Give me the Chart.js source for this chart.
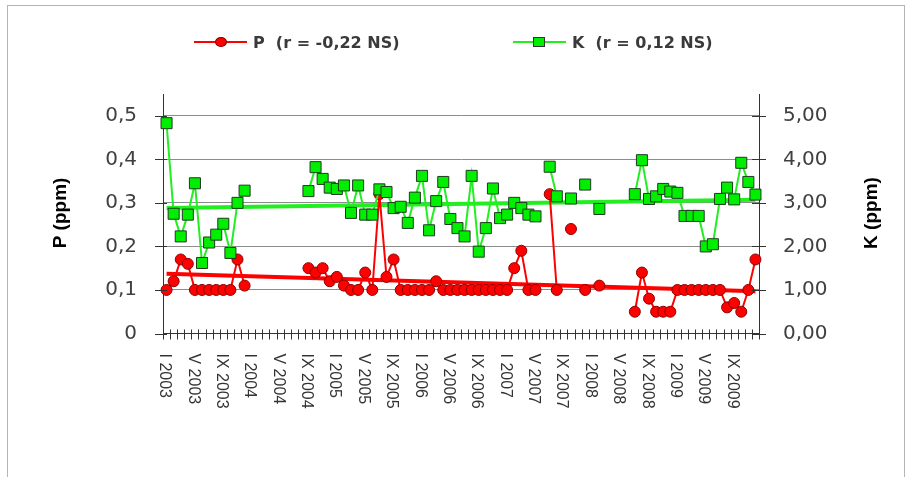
<!DOCTYPE html>
<html>
<head>
<meta charset="utf-8">
<script src="https://cdn.jsdelivr.net/npm/chart.js@4.4.1/dist/chart.umd.min.js"></script>
<style>
  html, body { margin: 0; padding: 0; background: #fff; }
  #wrap { position: relative; width: 909px; height: 477px; overflow: hidden; }
  #frame { position: absolute; left: 7px; top: 5px; width: 896px; height: 480px; border: 1px solid #b4b4b4; }
  #chart { position: absolute; left: 0; top: 0; }
  .lg { position: absolute; top: 32px; height: 21px; display: flex; align-items: center;
        font: bold 16px "DejaVu Sans", sans-serif; color: #3a3a3a; white-space: pre; }
  .sym { position: relative; width: 53px; height: 21px; margin-right: 6px; }
  .sym .ln { position: absolute; left: 0; right: 0; top: 9px; height: 2px; }
  .sym .mk { position: absolute; left: 22px; top: 5px; width: 10px; height: 10px; box-sizing: border-box; border: 1px solid #333; }
</style>
</head>
<body>
<div id="wrap">
  <div id="frame"></div>
  <canvas id="chart" width="909" height="477"></canvas>
  <div class="lg" style="left:194px">
    <span class="sym"><i class="ln" style="background:#ff0000"></i><i class="mk" style="background:#ff0000;border-color:#800000;border-radius:50%;width:12px;left:21px"></i></span><span>P  (r = -0,22 NS)</span>
  </div>
  <div class="lg" style="left:513px">
    <span class="sym"><i class="ln" style="background:#22ee22"></i><i class="mk" style="background:#00ee00;width:12px;left:20px"></i></span><span>K  (r = 0,12 NS)</span>
  </div>
</div>
<script>
// months I..XII for 2003..2009
const MONTHS = ["I", "II", "III", "IV", "V", "VI", "VII", "VIII", "IX", "X", "XI", "XII"];
const YEARS = [2003, 2004, 2005, 2006, 2007, 2008, 2009];
const categories = [];
YEARS.forEach(y => MONTHS.forEach(m => categories.push(m + " " + y)));

// P (ppm), one value per month, null = no sample
const pValues = [
  0.10, 0.12, 0.17, 0.16, 0.10, 0.10, 0.10, 0.10, 0.10, 0.10, 0.17, 0.11,
  null, null, null, null, null, null, null, null, 0.15, 0.14, 0.15, 0.12,
  0.13, 0.11, 0.10, 0.10, 0.14, 0.10, 0.32, 0.13, 0.17, 0.10, 0.10, 0.10,
  0.10, 0.10, 0.12, 0.10, 0.10, 0.10, 0.10, 0.10, 0.10, 0.10, 0.10, 0.10,
  0.10, 0.15, 0.19, 0.10, 0.10, null, 0.32, 0.10, null, 0.24, null, 0.10,
  null, 0.11, null, null, null, null, 0.05, 0.14, 0.08, 0.05, 0.05, 0.05,
  0.10, 0.10, 0.10, 0.10, 0.10, 0.10, 0.10, 0.06, 0.07, 0.05, 0.10, 0.17
];

// K (ppm)
const kValues = [
  4.83, 2.75, 2.23, 2.73, 3.45, 1.62, 2.09, 2.27, 2.52, 1.85, 3.00, 3.28,
  null, null, null, null, null, null, null, null, 3.27, 3.82, 3.55, 3.35,
  3.32, 3.40, 2.77, 3.40, 2.73, 2.73, 3.31, 3.25, 2.88, 2.91, 2.54, 3.12,
  3.62, 2.37, 3.04, 3.48, 2.63, 2.42, 2.23, 3.62, 1.88, 2.42, 3.33, 2.65,
  2.73, 3.00, 2.88, 2.73, 2.69, null, 3.83, 3.15, null, 3.10, null, 3.42,
  null, 2.86, null, null, null, null, 3.20, 3.98, 3.09, 3.15, 3.32, 3.26,
  3.23, 2.70, 2.70, 2.70, 2.00, 2.05, 3.09, 3.35, 3.08, 3.92, 3.48, 3.19
];

// linear trend end points (first and last month)
const pTrend = [0.137, 0.097];
const kTrend = [2.88, 3.07];

const yTickValues = [0, 0.1, 0.2, 0.3, 0.4, 0.5];
const y2TickValues = [0, 1, 2, 3, 4, 5];

function trendSeries(ends) {
  return categories.map((c, i) => i === 0 ? ends[0] : (i === categories.length - 1 ? ends[1] : null));
}

// tick marks crossing the axes, rotated month labels, axis titles
const axisDecor = {
  id: "axisDecor",
  afterDraw(chart) {
    const { ctx, chartArea: a, scales } = chart;
    const xs = scales.x, yl = scales.y, yr = scales.y2;
    const step = xs.getPixelForValue(1) - xs.getPixelForValue(0);
    const x0 = xs.getPixelForValue(0) - step / 2;

    ctx.save();
    ctx.strokeStyle = "#333";
    ctx.lineWidth = 1;
    ctx.beginPath();
    for (let k = 0; k <= categories.length; k++) {
      const x = Math.round(x0 + step * k) + 0.5;
      ctx.moveTo(x, a.bottom - 4);
      ctx.lineTo(x, a.bottom + 6);
    }
    yTickValues.forEach(v => {
      const y = Math.round(yl.getPixelForValue(v)) + 0.5;
      ctx.moveTo(a.left - 8, y);
      ctx.lineTo(a.left + 4, y);
    });
    y2TickValues.forEach(v => {
      const y = Math.round(yr.getPixelForValue(v)) + 0.5;
      ctx.moveTo(a.right - 7, y);
      ctx.lineTo(a.right + 7, y);
    });
    ctx.stroke();

    ctx.fillStyle = "#333";
    ctx.font = "16px 'Liberation Sans'";
    ctx.textAlign = "left";
    ctx.textBaseline = "middle";
    categories.forEach((c, i) => {
      if (i % 4) return;
      ctx.save();
      ctx.translate(xs.getPixelForValue(i) - 2, a.bottom + 20);
      ctx.rotate(Math.PI / 2);
      ctx.fillText(c, 0, 0);
      ctx.restore();
    });

    ctx.fillStyle = "#000";
    ctx.font = "bold 19px 'Liberation Sans'";
    ctx.textAlign = "center";
    [["P (ppm)", 61], ["K (ppm)", 872]].forEach(([t, x]) => {
      ctx.save();
      ctx.translate(x, 213);
      ctx.rotate(-Math.PI / 2);
      ctx.fillText(t, 0, 0);
      ctx.restore();
    });
    ctx.restore();
  }
};

new Chart(document.getElementById("chart"), {
  type: "line",
  data: {
    labels: categories,
    datasets: [
      {
        label: "K",
        data: kValues,
        yAxisID: "y2",
        order: 0,
        borderColor: "#22ee22",
        borderWidth: 2,
        pointStyle: "rect",
        pointRadius: 7.8,
        pointBackgroundColor: "#00ee00",
        pointBorderColor: "#1f3a1f",
        pointBorderWidth: 1,
        spanGaps: false,
      },
      {
        label: "P",
        data: pValues,
        yAxisID: "y",
        order: 1,
        borderColor: "#ff0000",
        borderWidth: 2,
        pointStyle: "circle",
        pointRadius: 5.5,
        pointBackgroundColor: "#ff0000",
        pointBorderColor: "#8b0000",
        pointBorderWidth: 1,
        spanGaps: false,
      },
      {
        label: "K trend",
        data: trendSeries(kTrend),
        yAxisID: "y2",
        order: 2,
        borderColor: "#22ee22",
        borderWidth: 4,
        pointRadius: 0,
        spanGaps: true,
      },
      {
        label: "P trend",
        data: trendSeries(pTrend),
        yAxisID: "y",
        order: 3,
        borderColor: "#ff0000",
        borderWidth: 4,
        pointRadius: 0,
        spanGaps: true,
      },
    ]
  },
  options: {
    responsive: false,
    animation: false,
    devicePixelRatio: 1,
    layout: { padding: { top: 94, left: 0, right: 0, bottom: 0 } },
    elements: { line: { tension: 0 } },
    plugins: { legend: { display: false }, tooltip: { enabled: false } },
    scales: {
      x: {
        type: "category",
        offset: true,
        ticks: { display: false },
        grid: { display: true, drawOnChartArea: false, drawTicks: false },
        border: { color: "#333", width: 1 },
        afterFit: s => { s.height = 143.5; },
      },
      y: {
        position: "left",
        min: 0,
        max: 0.55,
        afterBuildTicks: s => { s.ticks = yTickValues.map(v => ({ value: v })); },
        ticks: {
          padding: 26,
          color: "#404040",
          font: { family: "DejaVu Sans", size: 20 },
          callback: v => v === 0 ? "0" : v.toFixed(1).replace(".", ","),
        },
        grid: {
          drawTicks: false,
          color: c => c.tick && c.tick.value === 0 ? "rgba(0,0,0,0)" : "#8c8c8c",
        },
        border: { color: "#333", width: 1 },
        afterFit: s => { s.width = 163; },
      },
      y2: {
        position: "right",
        min: 0,
        max: 5.5,
        afterBuildTicks: s => { s.ticks = y2TickValues.map(v => ({ value: v })); },
        ticks: {
          padding: 24,
          color: "#404040",
          font: { family: "DejaVu Sans", size: 20 },
          callback: v => v.toFixed(2).replace(".", ","),
        },
        grid: { drawOnChartArea: false, drawTicks: false },
        border: { color: "#333", width: 1 },
        afterFit: s => { s.width = 150; },
      },
    }
  },
  plugins: [axisDecor]
});
</script>
</body>
</html>
